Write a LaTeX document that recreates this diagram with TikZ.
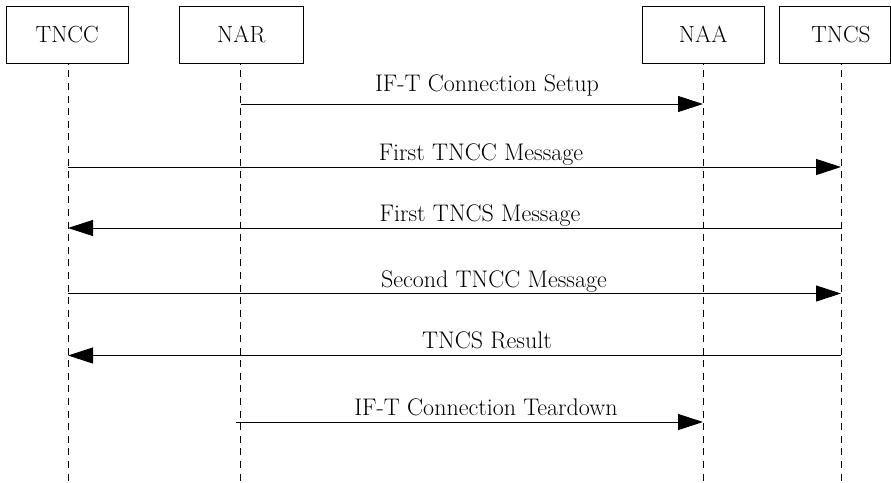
\documentclass[tikz,border=0pt]{standalone}
\usetikzlibrary{arrows.meta}
\begin{document}
\begin{tikzpicture}[x=0.75pt,y=-0.75pt,
  box/.style={draw, line width=0.75pt, minimum height=43pt, inner sep=0pt, font=\fontsize{17.5}{21}\selectfont},
  life/.style={line width=0.75pt, dash pattern=on 5.25pt off 4.2pt, dash phase=4.2pt},
  msg/.style={line width=0.75pt, -{Triangle[length=18.75pt,width=12pt]}},
  lbl/.style={anchor=base, inner sep=0pt, font=\fontsize{18}{21}\selectfont}]
\useasboundingbox (0,0) rectangle (891,482);
% participant boxes
\node[box, minimum width=91.7pt] (tncc) at (67.2,34.7) {TNCC};
\node[box, minimum width=93pt]   (nar)  at (241.3,34.7) {NAR};
\node[box, minimum width=91.7pt] (naa)  at (703.2,34.7) {NAA};
\node[box, minimum width=83.5pt] (tncs) at (835,34.7) {\hspace*{9pt}TNCS};
% lifeline anchors
\coordinate (tnccL) at (68,63.3);   \coordinate (tnccB) at (68,482);
\coordinate (narL)  at (240.5,63.3); \coordinate (narB)  at (240.5,482);
\coordinate (naaL)  at (703,63.3);  \coordinate (naaB)  at (703,482);
\coordinate (tncsL) at (841,63.3);  \coordinate (tncsB) at (841,482);
\draw[life] (tnccL) -- (tnccB);
\draw[life] (narL) -- (narB);
\draw[life] (naaL) -- (naaB);
\draw[life] (tncsL) -- (tncsB);
% message levels
\coordinate (y1) at (0,104);
\coordinate (y2) at (0,167);
\coordinate (y3) at (0,228);
\coordinate (y4) at (0,293.5);
\coordinate (y5) at (0,355.5);
\coordinate (y6) at (0,422);
% messages
\draw[msg] (narL |- y1) -- (naaL |- y1);
\draw[msg] (tnccL |- y2) -- (tncsL |- y2);
\draw[msg] (tncsL |- y3) -- (tnccL |- y3);
\draw[msg] (tnccL |- y4) -- (tncsL |- y4);
\draw[msg] (tncsL |- y5) -- (tnccL |- y5);
\draw[msg] ([xshift=-3.4pt]narL |- y6) -- (naaL |- y6);
% labels
\node[lbl] (l1) at (487,91)    {IF-T Connection Setup};
\node[lbl] (l2) at (481,160.5) {First TNCC Message};
\node[lbl] (l3) at (480,221.5) {First TNCS Message};
\node[lbl] (l4) at (494,287.5) {Second TNCC Message};
\node[lbl] (l5) at (487,348)   {TNCS Result};
\node[lbl] (l6) at (486,415)   {IF-T Connection Teardown};
\end{tikzpicture}
\end{document}
